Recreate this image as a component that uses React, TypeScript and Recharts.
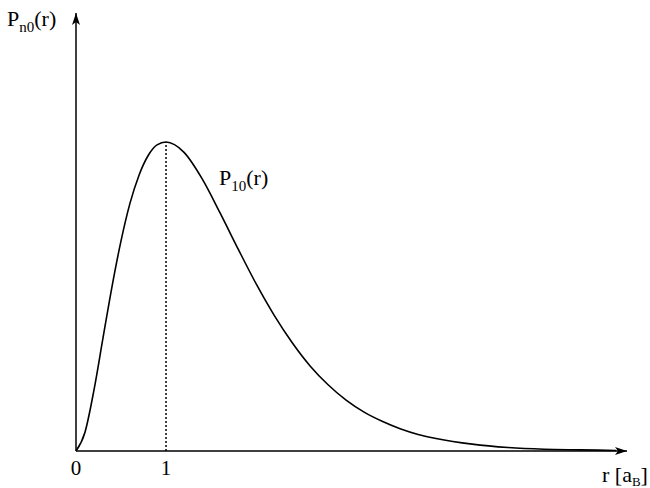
import { LineChart, Line, XAxis, YAxis, ReferenceLine } from 'recharts'

// radial distance r in Bohr radii
const rValues = [0, 0.1, 0.2, 0.3, 0.4, 0.5, 0.6, 0.7, 0.8, 0.9, 1.0, 1.2, 1.4, 1.6, 1.8, 2.0, 2.2, 2.4, 2.6, 2.8, 3.0, 3.2, 3.4, 3.6, 3.8, 4.0, 4.4, 4.8, 5.2, 5.6, 6.0]
const pValues = [0, 0.033, 0.107, 0.198, 0.288, 0.368, 0.434, 0.483, 0.517, 0.536, 0.541, 0.523, 0.477, 0.417, 0.354, 0.293, 0.238, 0.19, 0.149, 0.116, 0.089, 0.068, 0.052, 0.039, 0.029, 0.022, 0.012, 0.006, 0.003, 0.002, 0.001]
const xTicks = [0, 1]
const peakR = 1
const peakP = 0.541

const data = rValues.map((r, i) => ({ r, p: pValues[i] }))

const serif = '"Liberation Serif", "DejaVu Serif", serif'

export default function App() {
  return (
    <div style={{ position: 'absolute', left: 0, top: 0, width: 650, height: 488, background: '#fff' }}>
      <svg width={0} height={0} style={{ position: 'absolute' }}>
        <defs>
          <marker id="arr" viewBox="0 0 12 8" refX="12" refY="4" markerWidth="12" markerHeight="8" markerUnits="userSpaceOnUse" orient="auto-start-reverse">
            <path d="M0,0 L12,4 L0,8 L3,4 Z" fill="#000" />
          </marker>
        </defs>
      </svg>
      <LineChart width={650} height={488} data={data} margin={{ top: 13, right: 23, bottom: 7, left: 75 }}>
        <XAxis
          dataKey="r"
          type="number"
          domain={[0, 6.12]}
          ticks={xTicks}
          height={30}
          tickLine={false}
          axisLine={{ stroke: '#000', strokeWidth: 1.5, markerEnd: 'url(#arr)' } as any}
          tick={{ fill: '#000', fontSize: 21, fontFamily: serif }}
          tickMargin={3}
        />
        <YAxis
          type="number"
          domain={[0, 0.767]}
          width={1}
          tick={false}
          tickLine={false}
          axisLine={{ stroke: '#000', strokeWidth: 1.5, markerStart: 'url(#arr)' } as any}
        />
        <ReferenceLine
          segment={[{ x: peakR, y: 0 }, { x: peakR, y: peakP }]}
          stroke="#000"
          strokeWidth={1.5}
          strokeDasharray="2 2"
        />
        <Line dataKey="p" type="monotone" stroke="#000" strokeWidth={1.6} dot={false} isAnimationActive={false} />
      </LineChart>
      <svg width={650} height={488} style={{ position: 'absolute', left: 0, top: 0, pointerEvents: 'none' }}>
        <text x={7} y={26} fontFamily={serif} fontSize={22} fill="#000">
          P<tspan fontSize={15} dy={6}>n0</tspan><tspan dy={-6}>(r)</tspan>
        </text>
        <text x={219} y={185} fontFamily={serif} fontSize={22} fill="#000">
          P<tspan fontSize={15} dy={6}>10</tspan><tspan dy={-6}>(r)</tspan>
        </text>
        <text x={602} y={482} fontFamily={serif} fontSize={22} fill="#000">
          r [a<tspan fontSize={13} dy={4}>B</tspan><tspan dy={-4}>]</tspan>
        </text>
      </svg>
    </div>
  )
}
